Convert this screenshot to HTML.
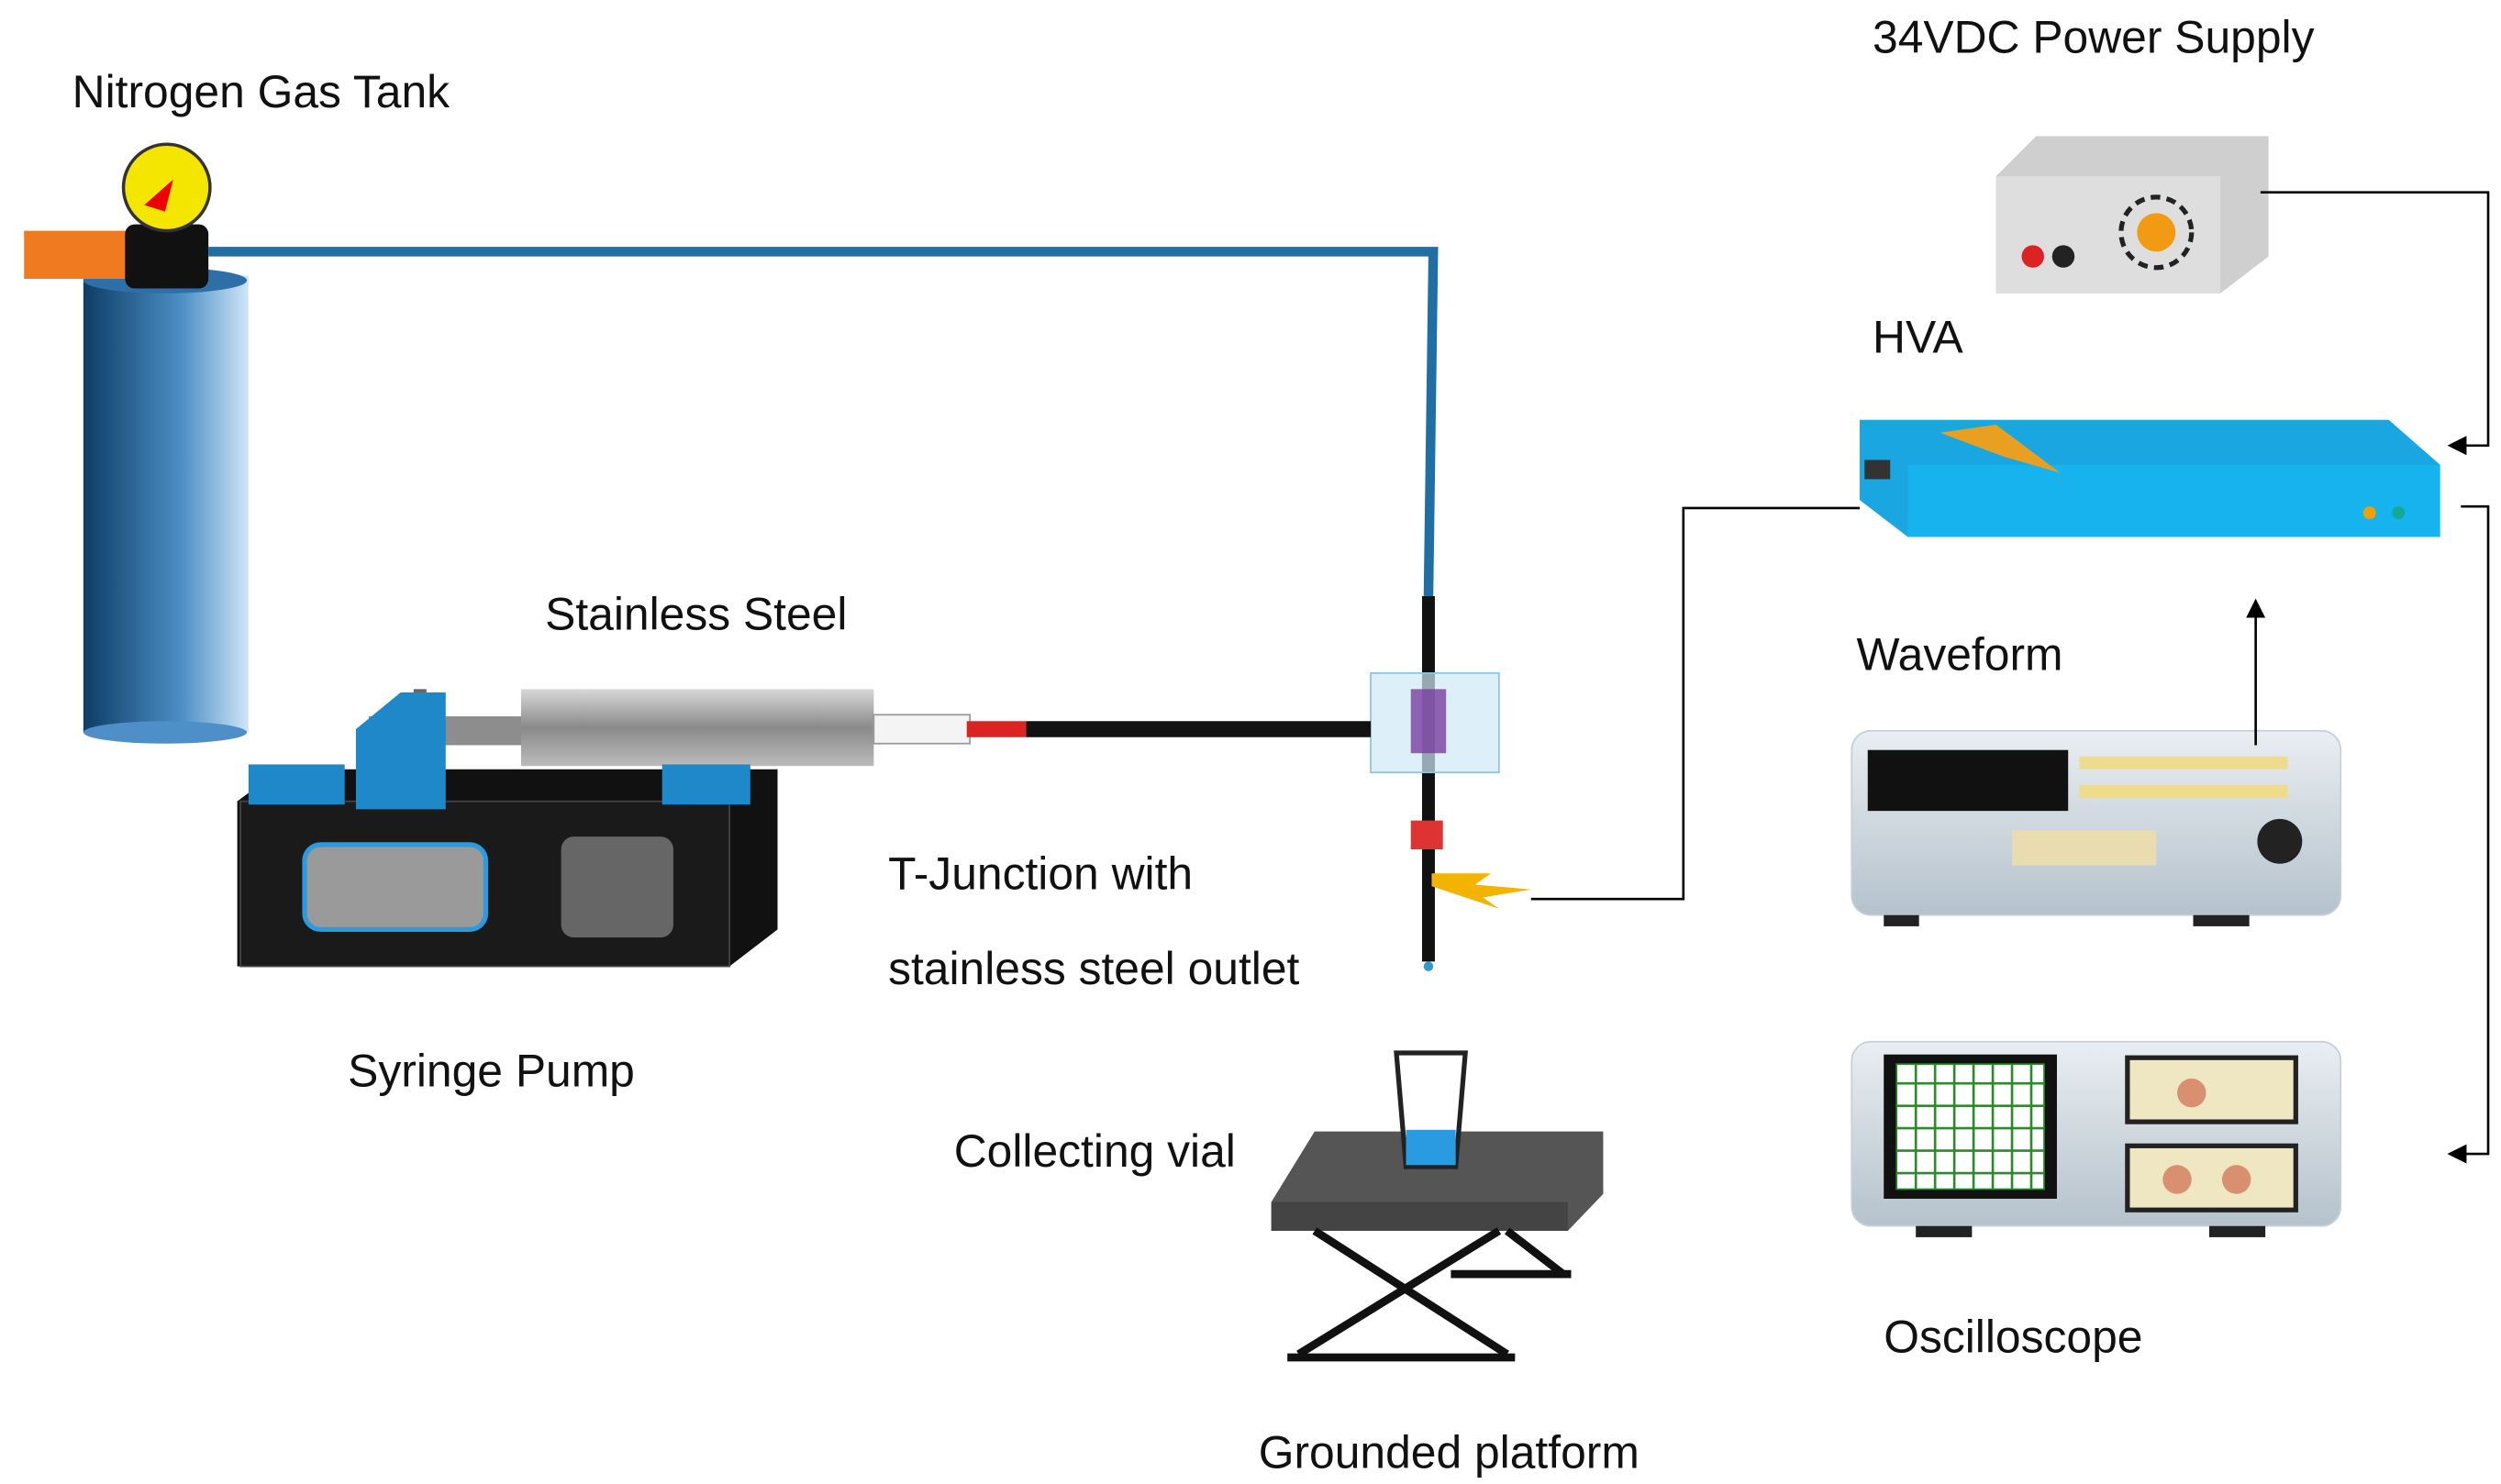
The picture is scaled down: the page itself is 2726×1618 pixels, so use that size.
<!DOCTYPE html>
<html><head><meta charset="utf-8"><style>
html,body{margin:0;padding:0;background:#fff;width:2726px;height:1618px;overflow:hidden}
svg{display:block}
text{font-family:"Liberation Sans",sans-serif;font-size:28.5px;fill:#111}
</style></head><body>
<svg width="2726" height="1618" viewBox="0 0 1560 926" preserveAspectRatio="none" xmlns="http://www.w3.org/2000/svg">
<defs>
<linearGradient id="tank" x1="0" x2="1"><stop offset="0" stop-color="#0d3d66"/><stop offset="0.6" stop-color="#4d8fc6"/><stop offset="1" stop-color="#cfe6f7"/></linearGradient>
<linearGradient id="barrel" x1="0" y1="0" x2="0" y2="1"><stop offset="0" stop-color="#d8d8d8"/><stop offset="0.5" stop-color="#8a8a8a"/><stop offset="1" stop-color="#bbb"/></linearGradient>
<linearGradient id="dev" x1="0" y1="0" x2="0" y2="1"><stop offset="0" stop-color="#e9eef2"/><stop offset="1" stop-color="#b5c2cc"/></linearGradient>
<marker id="ar" markerWidth="8" markerHeight="8" refX="7" refY="4" orient="auto"><path d="M0,0L8,4L0,8z" fill="#000"/></marker>
</defs>
<text x="45" y="67">Nitrogen Gas Tank</text>
<text x="1168" y="33">34VDC Power Supply</text>
<text x="1168" y="220">HVA</text>
<text x="340" y="393">Stainless Steel</text>
<text x="1158" y="418">Waveform</text>
<text x="554" y="555">T-Junction with</text>
<text x="554" y="614">stainless steel outlet</text>
<text x="217" y="678">Syringe Pump</text>
<text x="595" y="728">Collecting vial</text>
<text x="1175" y="844">Oscilloscope</text>
<text x="785" y="916">Grounded platform</text>
<rect x="52" y="172" width="103" height="285" fill="url(#tank)"/>
<ellipse cx="103" cy="457" rx="51" ry="7" fill="#4d8fc6"/>
<ellipse cx="103" cy="175" rx="51" ry="8" fill="#2f6fa8"/>
<rect x="15" y="144" width="65" height="30" fill="#f07a20"/>
<rect x="78" y="140" width="52" height="40" rx="6" fill="#111"/>
<circle cx="104" cy="117" r="27" fill="#f5e600" stroke="#333" stroke-width="2"/>
<path d="M90,128L108,112L103,132z" fill="#e00"/>
<polyline points="130,157 894,157 891,372" fill="none" stroke="#1f6fa5" stroke-width="6"/>
<line x1="891" y1="372" x2="891" y2="600" stroke="#111" stroke-width="8"/>
<rect x="855" y="420" width="80" height="62" fill="#cfeaf8" fill-opacity="0.7" stroke="#8cc4e4"/>
<rect x="880" y="430" width="22" height="40" fill="#7b3fa0" opacity="0.8"/>
<rect x="880" y="512" width="20" height="18" fill="#d33"/>
<path d="M893,545L930,545L920,552L955,555L925,560L935,567L893,553z" fill="#f2b400"/>
<circle cx="891" cy="603" r="3" fill="#39c"/>
<line x1="640" y1="455" x2="855" y2="455" stroke="#111" stroke-width="10"/>
<rect x="230" y="447" width="100" height="18" fill="#8d8d8d"/>
<rect x="258" y="430" width="8" height="55" fill="#666"/>
<rect x="325" y="430" width="220" height="48" fill="url(#barrel)"/>
<rect x="545" y="446" width="60" height="18" fill="#f4f4f4" stroke="#999"/>
<rect x="603" y="450" width="37" height="10" fill="#d22"/>
<path d="M148,500L175,480L485,480L485,580L455,603L148,603z" fill="#111"/>
<rect x="150" y="500" width="305" height="103" fill="#1a1a1a" stroke="#444"/>
<rect x="155" y="477" width="60" height="25" fill="#1e88c8"/>
<rect x="413" y="477" width="55" height="25" fill="#1e88c8"/>
<path d="M222,455L250,432L278,432L278,505L222,505z" fill="#1e88c8"/>
<rect x="190" y="527" width="113" height="53" rx="10" fill="#9a9a9a" stroke="#2a9be0" stroke-width="3"/>
<rect x="350" y="522" width="70" height="63" rx="8" fill="#666"/>
<path d="M1245,110L1270,85L1415,85L1415,160L1385,183L1245,183z" fill="#cfcfcf"/>
<rect x="1245" y="110" width="140" height="73" fill="#dedede"/>
<circle cx="1345" cy="145" r="22" fill="none" stroke="#222" stroke-width="3" stroke-dasharray="6,4"/>
<circle cx="1345" cy="145" r="12" fill="#f29a14"/>
<circle cx="1268" cy="160" r="7" fill="#d22"/><circle cx="1287" cy="160" r="7" fill="#222"/>
<path d="M1160,262L1490,262L1522,290L1522,335L1190,335L1160,312z" fill="#1aa6e0"/>
<rect x="1190" y="290" width="332" height="45" fill="#16b3ee"/>
<path d="M1210,270L1245,265L1285,295L1250,285z" fill="#e9a020"/>
<rect x="1163" y="287" width="16" height="12" fill="#333"/>
<circle cx="1478" cy="320" r="4" fill="#f0a000"/><circle cx="1496" cy="320" r="4" fill="#1a9"/>
<rect x="1155" y="456" width="305" height="115" rx="12" fill="url(#dev)" stroke="#c5d0d8"/>
<rect x="1165" y="468" width="125" height="38" fill="#111"/>
<g fill="#eedc8c"><rect x="1297" y="472" width="130" height="8"/><rect x="1297" y="490" width="130" height="8"/></g>
<rect x="1255" y="518" width="90" height="22" fill="#e8dcb0"/>
<circle cx="1422" cy="525" r="14" fill="#222"/>
<rect x="1175" y="571" width="22" height="7" fill="#222"/><rect x="1368" y="571" width="35" height="7" fill="#222"/>
<rect x="1155" y="650" width="305" height="115" rx="12" fill="url(#dev)" stroke="#c5d0d8"/>
<rect x="1175" y="658" width="108" height="90" fill="#111"/>
<rect x="1183" y="664" width="92" height="78" fill="#fff" stroke="#2b8a2b"/>
<g stroke="#2b8a2b" stroke-width="1.5"><line x1="1195" y1="664" x2="1195" y2="742"/><line x1="1207" y1="664" x2="1207" y2="742"/><line x1="1219" y1="664" x2="1219" y2="742"/><line x1="1231" y1="664" x2="1231" y2="742"/><line x1="1243" y1="664" x2="1243" y2="742"/><line x1="1255" y1="664" x2="1255" y2="742"/><line x1="1267" y1="664" x2="1267" y2="742"/><line x1="1183" y1="676" x2="1275" y2="676"/><line x1="1183" y1="690" x2="1275" y2="690"/><line x1="1183" y1="704" x2="1275" y2="704"/><line x1="1183" y1="718" x2="1275" y2="718"/><line x1="1183" y1="732" x2="1275" y2="732"/></g>
<rect x="1327" y="660" width="105" height="40" fill="#efe6c2" stroke="#222" stroke-width="3"/>
<rect x="1327" y="715" width="105" height="40" fill="#efe6c2" stroke="#222" stroke-width="3"/>
<circle cx="1367" cy="682" r="9" fill="#d99070"/><circle cx="1358" cy="736" r="9" fill="#d99070"/><circle cx="1395" cy="736" r="9" fill="#d99070"/>
<rect x="1195" y="765" width="35" height="7" fill="#222"/><rect x="1378" y="765" width="35" height="7" fill="#222"/>
<polyline points="1410,120 1552,120 1552,278 1528,278" fill="none" stroke="#000" stroke-width="1.5" marker-end="url(#ar)"/>
<polyline points="1535,316 1552,316 1552,720 1528,720" fill="none" stroke="#000" stroke-width="1.5" marker-end="url(#ar)"/>
<polyline points="1160,317 1050,317 1050,561 955,561" fill="none" stroke="#000" stroke-width="1.5"/>
<line x1="1407" y1="465" x2="1407" y2="375" stroke="#000" stroke-width="1.5" marker-end="url(#ar)"/>
<path d="M820,706L1000,706L1000,745L978,768L793,768L793,750z" fill="#555"/>
<rect x="793" y="750" width="185" height="18" fill="#444"/>
<g stroke="#111" stroke-width="5"><line x1="820" y1="768" x2="940" y2="845"/><line x1="935" y1="768" x2="810" y2="845"/><line x1="803" y1="847" x2="945" y2="847"/><line x1="905" y1="795" x2="980" y2="795"/><line x1="940" y1="768" x2="975" y2="795"/></g>
<path d="M871,657L914,657L908,728L877,728z" fill="#fff" stroke="#222" stroke-width="3"/>
<rect x="877" y="705" width="31" height="22" fill="#2a9be0"/>
</svg>
</body></html>
